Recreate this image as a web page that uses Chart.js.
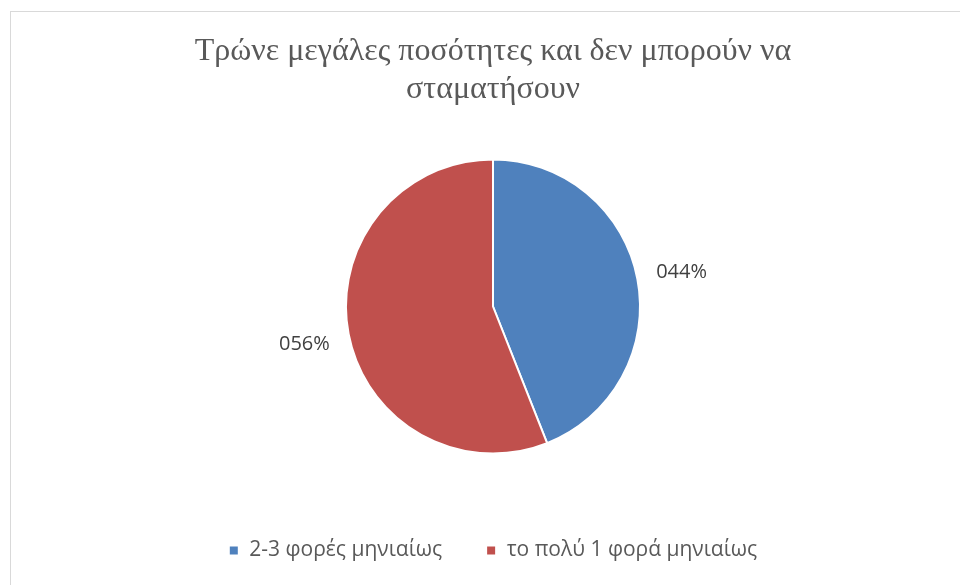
<!DOCTYPE html>
<html>
<head>
<meta charset="utf-8">
<script src="https://cdn.jsdelivr.net/npm/chart.js@4/dist/chart.umd.min.js"></script>
<style>
  html, body { margin: 0; padding: 0; background: #fff; }
  #wrap { position: relative; width: 960px; height: 585px; }
  #frame {
    position: absolute; left: 10px; top: 11px; width: 1000px; height: 640px;
    border: 1px solid #d9d9d9; box-sizing: border-box;
  }
  canvas { position: absolute; left: 0; top: 0; }
</style>
</head>
<body>
<div id="wrap">
  <div id="frame"></div>
  <canvas id="pieChart" width="960" height="585"></canvas>
</div>
<script>
// Survey answers (share of respondents, %)
const titleLines = ['Τρώνε μεγάλες ποσότητες και δεν μπορούν να', 'σταματήσουν'];
const categories = ['2-3 φορές μηνιαίως', 'το πολύ 1 φορά μηνιαίως'];
const shares = [44, 56];
const sliceColors = ['#4F81BD', '#C0504D'];

// percent labels sitting just outside each slice, "000%" style
const outsideLabels = {
    id: 'outsideLabels',
    afterDatasetsDraw(chart) {
        const { ctx } = chart;
        const meta = chart.getDatasetMeta(0);
        ctx.save();
        ctx.font = '20px "Open Sans"';
        ctx.fillStyle = '#404040';
        ctx.textAlign = 'center';
        ctx.textBaseline = 'middle';
        meta.data.forEach((arc, i) => {
            const { x, y, startAngle, endAngle, outerRadius } = arc.getProps(['x', 'y', 'startAngle', 'endAngle', 'outerRadius'], true);
            const mid = (startAngle + endAngle) / 2;
            const r = outerRadius + 45;
            const text = String(shares[i]).padStart(3, '0') + '%';
            ctx.fillText(text, x + Math.cos(mid) * r, y + Math.sin(mid) * r + 2);
        });
        ctx.restore();
    }
};

new Chart(document.getElementById('pieChart'), {
    type: 'pie',
    data: {
        labels: categories,
        datasets: [{
            data: shares,
            backgroundColor: sliceColors,
            borderColor: '#ffffff',
            borderWidth: 2,
            radius: 147
        }]
    },
    options: {
        responsive: false,
        animation: false,
        layout: { padding: { left: 26, bottom: 14 } },
        plugins: {
            title: {
                display: true,
                text: titleLines,
                color: '#595959',
                font: { family: '"Liberation Serif"', size: 32, weight: 'normal', lineHeight: '38px' },
                padding: { top: 33, bottom: 8 }
            },
            legend: {
                position: 'bottom',
                labels: {
                    color: '#595959',
                    font: { family: '"Open Sans"', size: 21 },
                    boxWidth: 10,
                    boxHeight: 10,
                    padding: 44
                }
            },
            tooltip: { enabled: false }
        }
    },
    plugins: [outsideLabels]
});
</script>
</body>
</html>
